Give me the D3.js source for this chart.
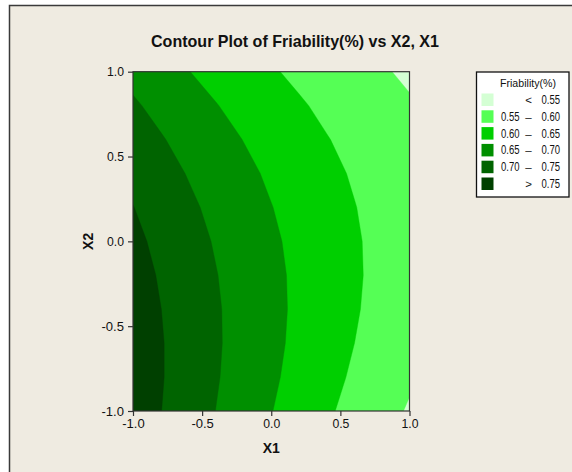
<!DOCTYPE html>
<html>
<head>
<meta charset="utf-8">
<script src="https://cdn.jsdelivr.net/npm/d3@7"></script>
<style>
  html, body { margin: 0; padding: 0; background: #ffffff; }
  svg { display: block; }
  text { font-family: "Liberation Sans", Arial, sans-serif; fill: #111; }
</style>
</head>
<body>
<svg id="chart" width="572" height="472"></svg>
<script>
// Response surface grid: Friability(%) at each (X1, X2) design point
const x1Levels = [-1.0, -0.8, -0.6, -0.4, -0.2, 0.0, 0.2, 0.4, 0.6, 0.8, 1.0];
const x2Levels = [1.0, 0.8, 0.6, 0.4, 0.2, 0.0, -0.2, -0.4, -0.6, -0.8, -1.0];
const friability = [
  [0.6865, 0.6684, 0.6512, 0.6348, 0.6193, 0.6045, 0.5907, 0.5775, 0.5654, 0.5539, 0.5434],
  [0.7061, 0.6872, 0.6690, 0.6518, 0.6353, 0.6197, 0.6050, 0.5909, 0.5779, 0.5655, 0.5541],
  [0.7234, 0.7036, 0.6845, 0.6664, 0.6491, 0.6325, 0.6169, 0.6020, 0.5881, 0.5748, 0.5625],
  [0.7384, 0.7176, 0.6977, 0.6787, 0.6605, 0.6431, 0.6265, 0.6107, 0.5959, 0.5818, 0.5686],
  [0.7510, 0.7294, 0.7086, 0.6887, 0.6696, 0.6512, 0.6338, 0.6171, 0.6014, 0.5864, 0.5723],
  [0.7613, 0.7388, 0.7171, 0.6963, 0.6763, 0.6571, 0.6388, 0.6212, 0.6046, 0.5887, 0.5737],
  [0.7693, 0.7459, 0.7233, 0.7016, 0.6807, 0.6606, 0.6414, 0.6229, 0.6055, 0.5887, 0.5728],
  [0.7749, 0.7506, 0.7272, 0.7046, 0.6828, 0.6618, 0.6417, 0.6224, 0.6040, 0.5863, 0.5695],
  [0.7782, 0.7531, 0.7287, 0.7052, 0.6826, 0.6607, 0.6397, 0.6194, 0.6002, 0.5816, 0.5639],
  [0.7792, 0.7532, 0.7279, 0.7035, 0.6800, 0.6572, 0.6354, 0.6142, 0.5940, 0.5746, 0.5560],
  [0.7779, 0.7509, 0.7248, 0.6995, 0.6751, 0.6514, 0.6287, 0.6066, 0.5856, 0.5652, 0.5458]
];

// Contour band breaks and legend text
const bandBreaks = [0.55, 0.60, 0.65, 0.70, 0.75];
const legendRows = [
  ["", "<", "0.55"],
  ["0.55", "\u2013", "0.60"],
  ["0.60", "\u2013", "0.65"],
  ["0.65", "\u2013", "0.70"],
  ["0.70", "\u2013", "0.75"],
  ["", ">", "0.75"]
];
const axisTicks = [-1.0, -0.5, 0.0, 0.5, 1.0];

// Band fills, lightest (lowest) to darkest (highest)
const bandColors = ["#d4ffd4", "#55ff55", "#00cf00", "#008f00", "#006400", "#004000"];

const svg = d3.select("#chart");

// Graph window
svg.append("rect")
  .attr("x", 9.5).attr("y", 5.5)
  .attr("width", 620).attr("height", 520)
  .attr("fill", "#efebe1")
  .attr("stroke", "#3a3a3a").attr("stroke-width", 1.5);

const plot = { left: 133, right: 409.5, top: 71.7, bottom: 411 };

const xScale = d3.scaleLinear().domain([-1, 1]).range([plot.left, plot.right]);
const yScale = d3.scaleLinear().domain([-1, 1]).range([plot.bottom, plot.top]);

svg.append("defs").append("clipPath").attr("id", "plotClip")
  .append("rect")
  .attr("x", plot.left).attr("y", plot.top)
  .attr("width", plot.right - plot.left).attr("height", plot.bottom - plot.top);

// Contour grid -> data coordinates (sample i sits at grid coordinate i + 0.5)
const nx = x1Levels.length, ny = x2Levels.length;
const dx1 = x1Levels[1] - x1Levels[0];
const dx2 = x2Levels[1] - x2Levels[0];
const gridToScreen = d3.geoTransform({
  point: function (gx, gy) {
    const v1 = x1Levels[0] + (gx - 0.5) * dx1;
    const v2 = x2Levels[0] + (gy - 0.5) * dx2;
    this.stream.point(xScale(v1), yScale(v2));
  }
});
const path = d3.geoPath(gridToScreen);

const values = friability.flat();
const bands = d3.contours().size([nx, ny]).smooth(true).thresholds(bandBreaks)(values);

const plotG = svg.append("g").attr("clip-path", "url(#plotClip)");

// Lowest band fills the whole region first
plotG.append("rect")
  .attr("x", plot.left).attr("y", plot.top)
  .attr("width", plot.right - plot.left).attr("height", plot.bottom - plot.top)
  .attr("fill", bandColors[0]);

plotG.selectAll("path.band")
  .data(bands)
  .join("path")
  .attr("class", "band")
  .attr("d", path)
  .attr("fill", (d, i) => bandColors[i + 1])
  .attr("stroke", (d, i) => bandColors[i + 1])
  .attr("stroke-width", 0.4);

// Plot frame
svg.append("rect")
  .attr("x", plot.left).attr("y", plot.top)
  .attr("width", plot.right - plot.left).attr("height", plot.bottom - plot.top)
  .attr("fill", "none")
  .attr("stroke", "#333").attr("stroke-width", 1.2);

const fmt = d => d.toFixed(1);

const xAxis = svg.append("g")
  .attr("transform", `translate(0,${plot.bottom})`)
  .call(d3.axisBottom(xScale).tickValues(axisTicks).tickFormat(fmt).tickSize(5).tickPadding(3).tickSizeOuter(0));
const yAxis = svg.append("g")
  .attr("transform", `translate(${plot.left},0)`)
  .call(d3.axisLeft(yScale).tickValues(axisTicks).tickFormat(fmt).tickSize(5).tickPadding(4).tickSizeOuter(0));

// Narrow, tall tick numerals
[xAxis, yAxis].forEach(g => {
  g.select(".domain").remove();
  g.selectAll(".tick line").attr("stroke", "#333").attr("stroke-width", 1.2);
  g.selectAll(".tick text")
    .attr("fill", "#111")
    .attr("textLength", d => fmt(d).length > 3 ? 22.5 : 17)
    .attr("lengthAdjust", "spacingAndGlyphs")
    .style("font-family", "'Liberation Sans', Arial, sans-serif")
    .style("font-size", "13px");
});

// Title and axis titles
svg.append("text")
  .attr("x", 295).attr("y", 46.5)
  .attr("text-anchor", "middle")
  .attr("textLength", 288).attr("lengthAdjust", "spacingAndGlyphs")
  .style("font-size", "17px").style("font-weight", "bold")
  .text("Contour Plot of Friability(%) vs X2, X1");

svg.append("text")
  .attr("x", (plot.left + plot.right) / 2).attr("y", 453)
  .attr("text-anchor", "middle")
  .style("font-size", "14px").style("font-weight", "bold")
  .text("X1");

svg.append("text")
  .attr("transform", `translate(93,${(plot.top + plot.bottom) / 2}) rotate(-90)`)
  .attr("text-anchor", "middle")
  .style("font-size", "14px").style("font-weight", "bold")
  .text("X2");

// Legend
const legend = svg.append("g");
legend.append("rect")
  .attr("x", 476.5).attr("y", 72)
  .attr("width", 92.5).attr("height", 125)
  .attr("fill", "#ffffff")
  .attr("stroke", "#111").attr("stroke-width", 1.3);

legend.append("text")
  .attr("x", 528).attr("y", 87)
  .attr("text-anchor", "middle")
  .attr("textLength", 56).attr("lengthAdjust", "spacingAndGlyphs")
  .style("font-size", "11.5px")
  .text("Friability(%)");

const rowY = d3.scaleLinear().domain([0, legendRows.length - 1]).range([93.5, 177.5]);

const rows = legend.selectAll("g.row")
  .data(legendRows)
  .join("g")
  .attr("class", "row")
  .attr("transform", (d, i) => `translate(0,${rowY(i)})`);

rows.append("rect")
  .attr("x", 481.5).attr("y", 0)
  .attr("width", 12).attr("height", 12.5)
  .attr("fill", (d, i) => bandColors[i]);

rows.filter(d => d[0] !== "").append("text")
  .attr("x", 519.5).attr("y", 10.5)
  .attr("text-anchor", "end")
  .attr("textLength", 18.5).attr("lengthAdjust", "spacingAndGlyphs")
  .style("font-size", "12px")
  .text(d => d[0]);

rows.append("text")
  .attr("x", 528.5).attr("y", 10.5)
  .attr("text-anchor", "middle")
  .style("font-size", "11.5px")
  .text(d => d[1]);

rows.append("text")
  .attr("x", 541.5).attr("y", 10.5)
  .attr("text-anchor", "start")
  .attr("textLength", 18.5).attr("lengthAdjust", "spacingAndGlyphs")
  .style("font-size", "12px")
  .text(d => d[2]);
</script>
</body>
</html>
